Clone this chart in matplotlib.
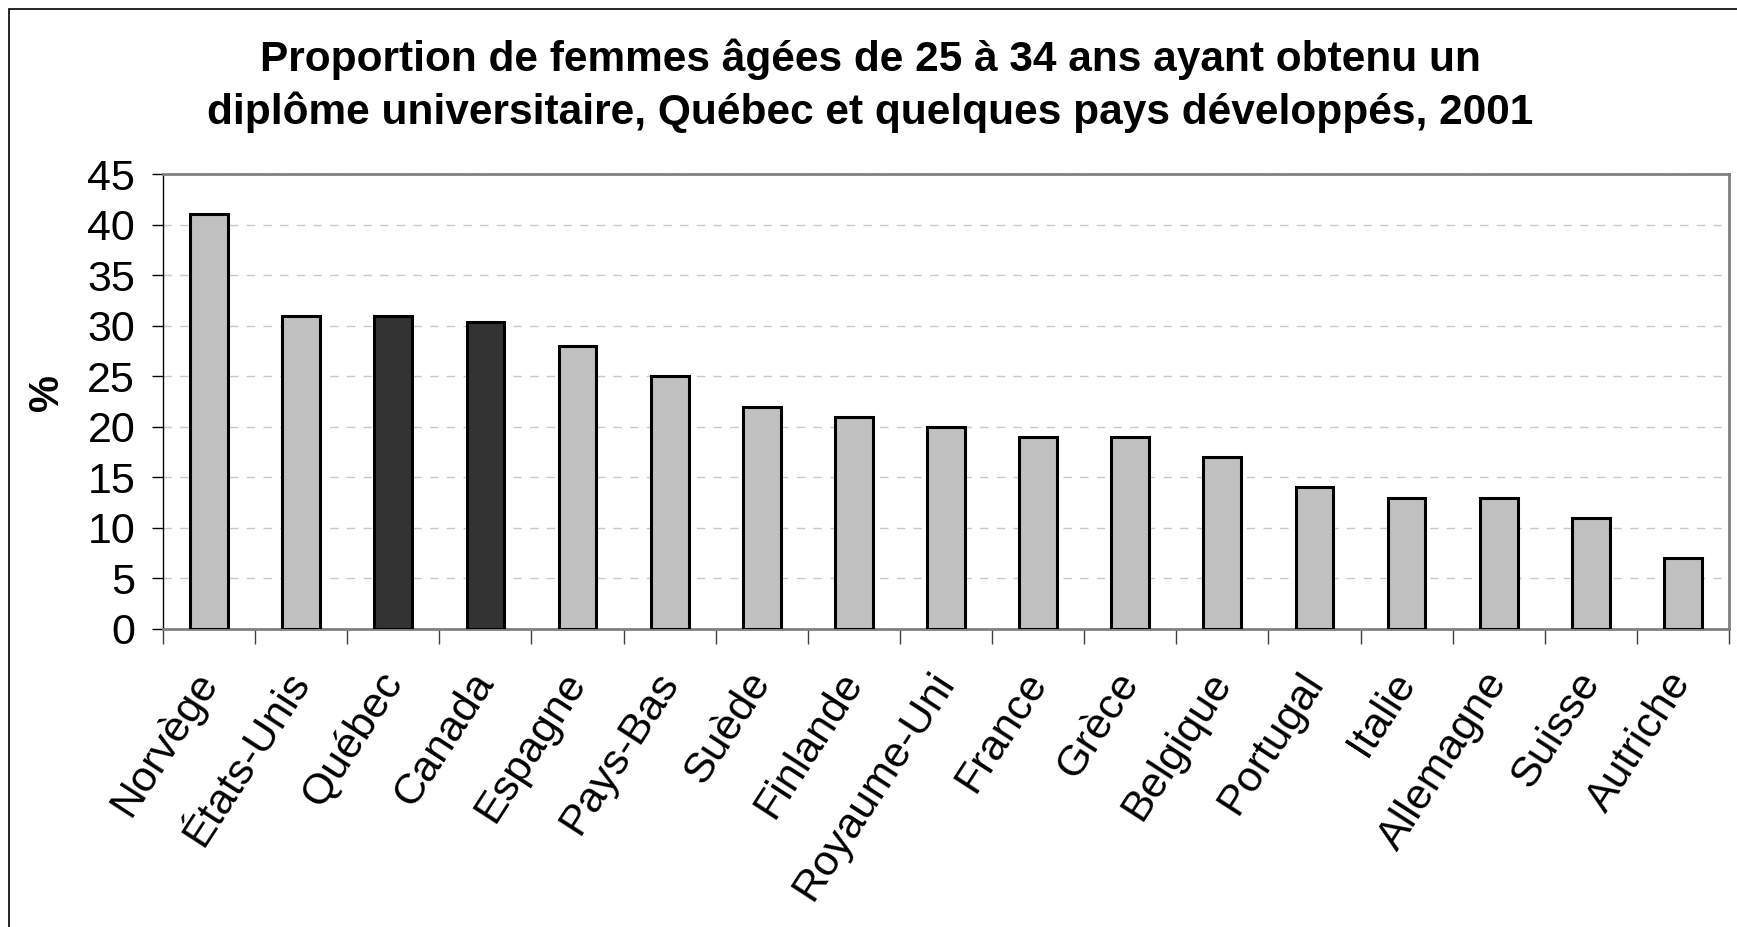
import numpy as np
import matplotlib.pyplot as plt
from matplotlib.patches import Rectangle

# data
pays = ['Norvège', 'États-Unis', 'Québec', 'Canada', 'Espagne', 'Pays-Bas',
        'Suède', 'Finlande', 'Royaume-Uni', 'France', 'Grèce', 'Belgique',
        'Portugal', 'Italie', 'Allemagne', 'Suisse', 'Autriche']
pourcent = [41, 31, 31, 30.4, 28, 25, 22, 21, 20, 19, 19, 17, 14, 13, 13, 11, 7]
mis_en_evidence = ['Québec', 'Canada']

y_ticks = list(range(0, 50, 5))

plt.rcParams['font.family'] = ['Liberation Sans', 'DejaVu Sans']

W, H = 1737, 927
fig = plt.figure(figsize=(W / 100, H / 100), dpi=100)
ax = fig.add_axes([163 / W, 1 - 629 / H, (1729 - 163) / W, (629 - 174) / H])

# outer frame of the chart area
fig.patches.append(Rectangle((9 / W, -0.1), 1.2, 1 - 9 / H + 0.1, transform=fig.transFigure,
                             fill=False, edgecolor='black', linewidth=1.2))

colors = ['#333333' if p in mis_en_evidence else '#c0c0c0' for p in pays]
x_pos = np.arange(len(pays))
ax.bar(x_pos, pourcent, width=0.41, color=colors, edgecolor='black', linewidth=2.2, zorder=3)

ax.set_xlim(-0.5, len(pays) - 0.5)
ax.set_ylim(0, 45)
ax.set_yticks(y_ticks)
ax.set_yticklabels([str(v) for v in y_ticks], fontsize=31)
ax.tick_params(axis='y', direction='out', length=8, width=1, pad=12, colors='black')

ax.set_xticks(np.arange(-0.5, len(pays), 1.0))
ax.set_xticklabels([])
ax.tick_params(axis='x', direction='out', length=11, width=1, color='#404040')

for i, name in enumerate(pays):
    ax.text(i + 0.0, -4.6, name, rotation=57, rotation_mode='anchor',
            ha='right', va='center', fontsize=31)

ax.yaxis.grid(True, linestyle=(0, (6, 6)), color='#c8c8c8', linewidth=1, zorder=0)
ax.set_axisbelow(True)

ax.spines['left'].set_color('black')
ax.spines['left'].set_linewidth(1)
ax.spines['bottom'].set_color('#808080')
ax.spines['bottom'].set_linewidth(2)
ax.spines['top'].set_color('#808080')
ax.spines['top'].set_linewidth(2)
ax.spines['right'].set_color('#808080')
ax.spines['right'].set_linewidth(2)

ax.set_ylabel('%', fontsize=30, fontweight='bold')
ax.yaxis.set_label_coords(-0.061, 0.52)

fig.text(0.501, 1 - 86 / H,
         'Proportion de femmes âgées de 25 à 34 ans ayant obtenu un\n'
         'diplôme universitaire, Québec et quelques pays développés, 2001',
         ha='center', va='center', fontsize=30.5, fontweight='bold', linespacing=1.36)

fig.savefig('out.png', dpi=100, facecolor='white')
